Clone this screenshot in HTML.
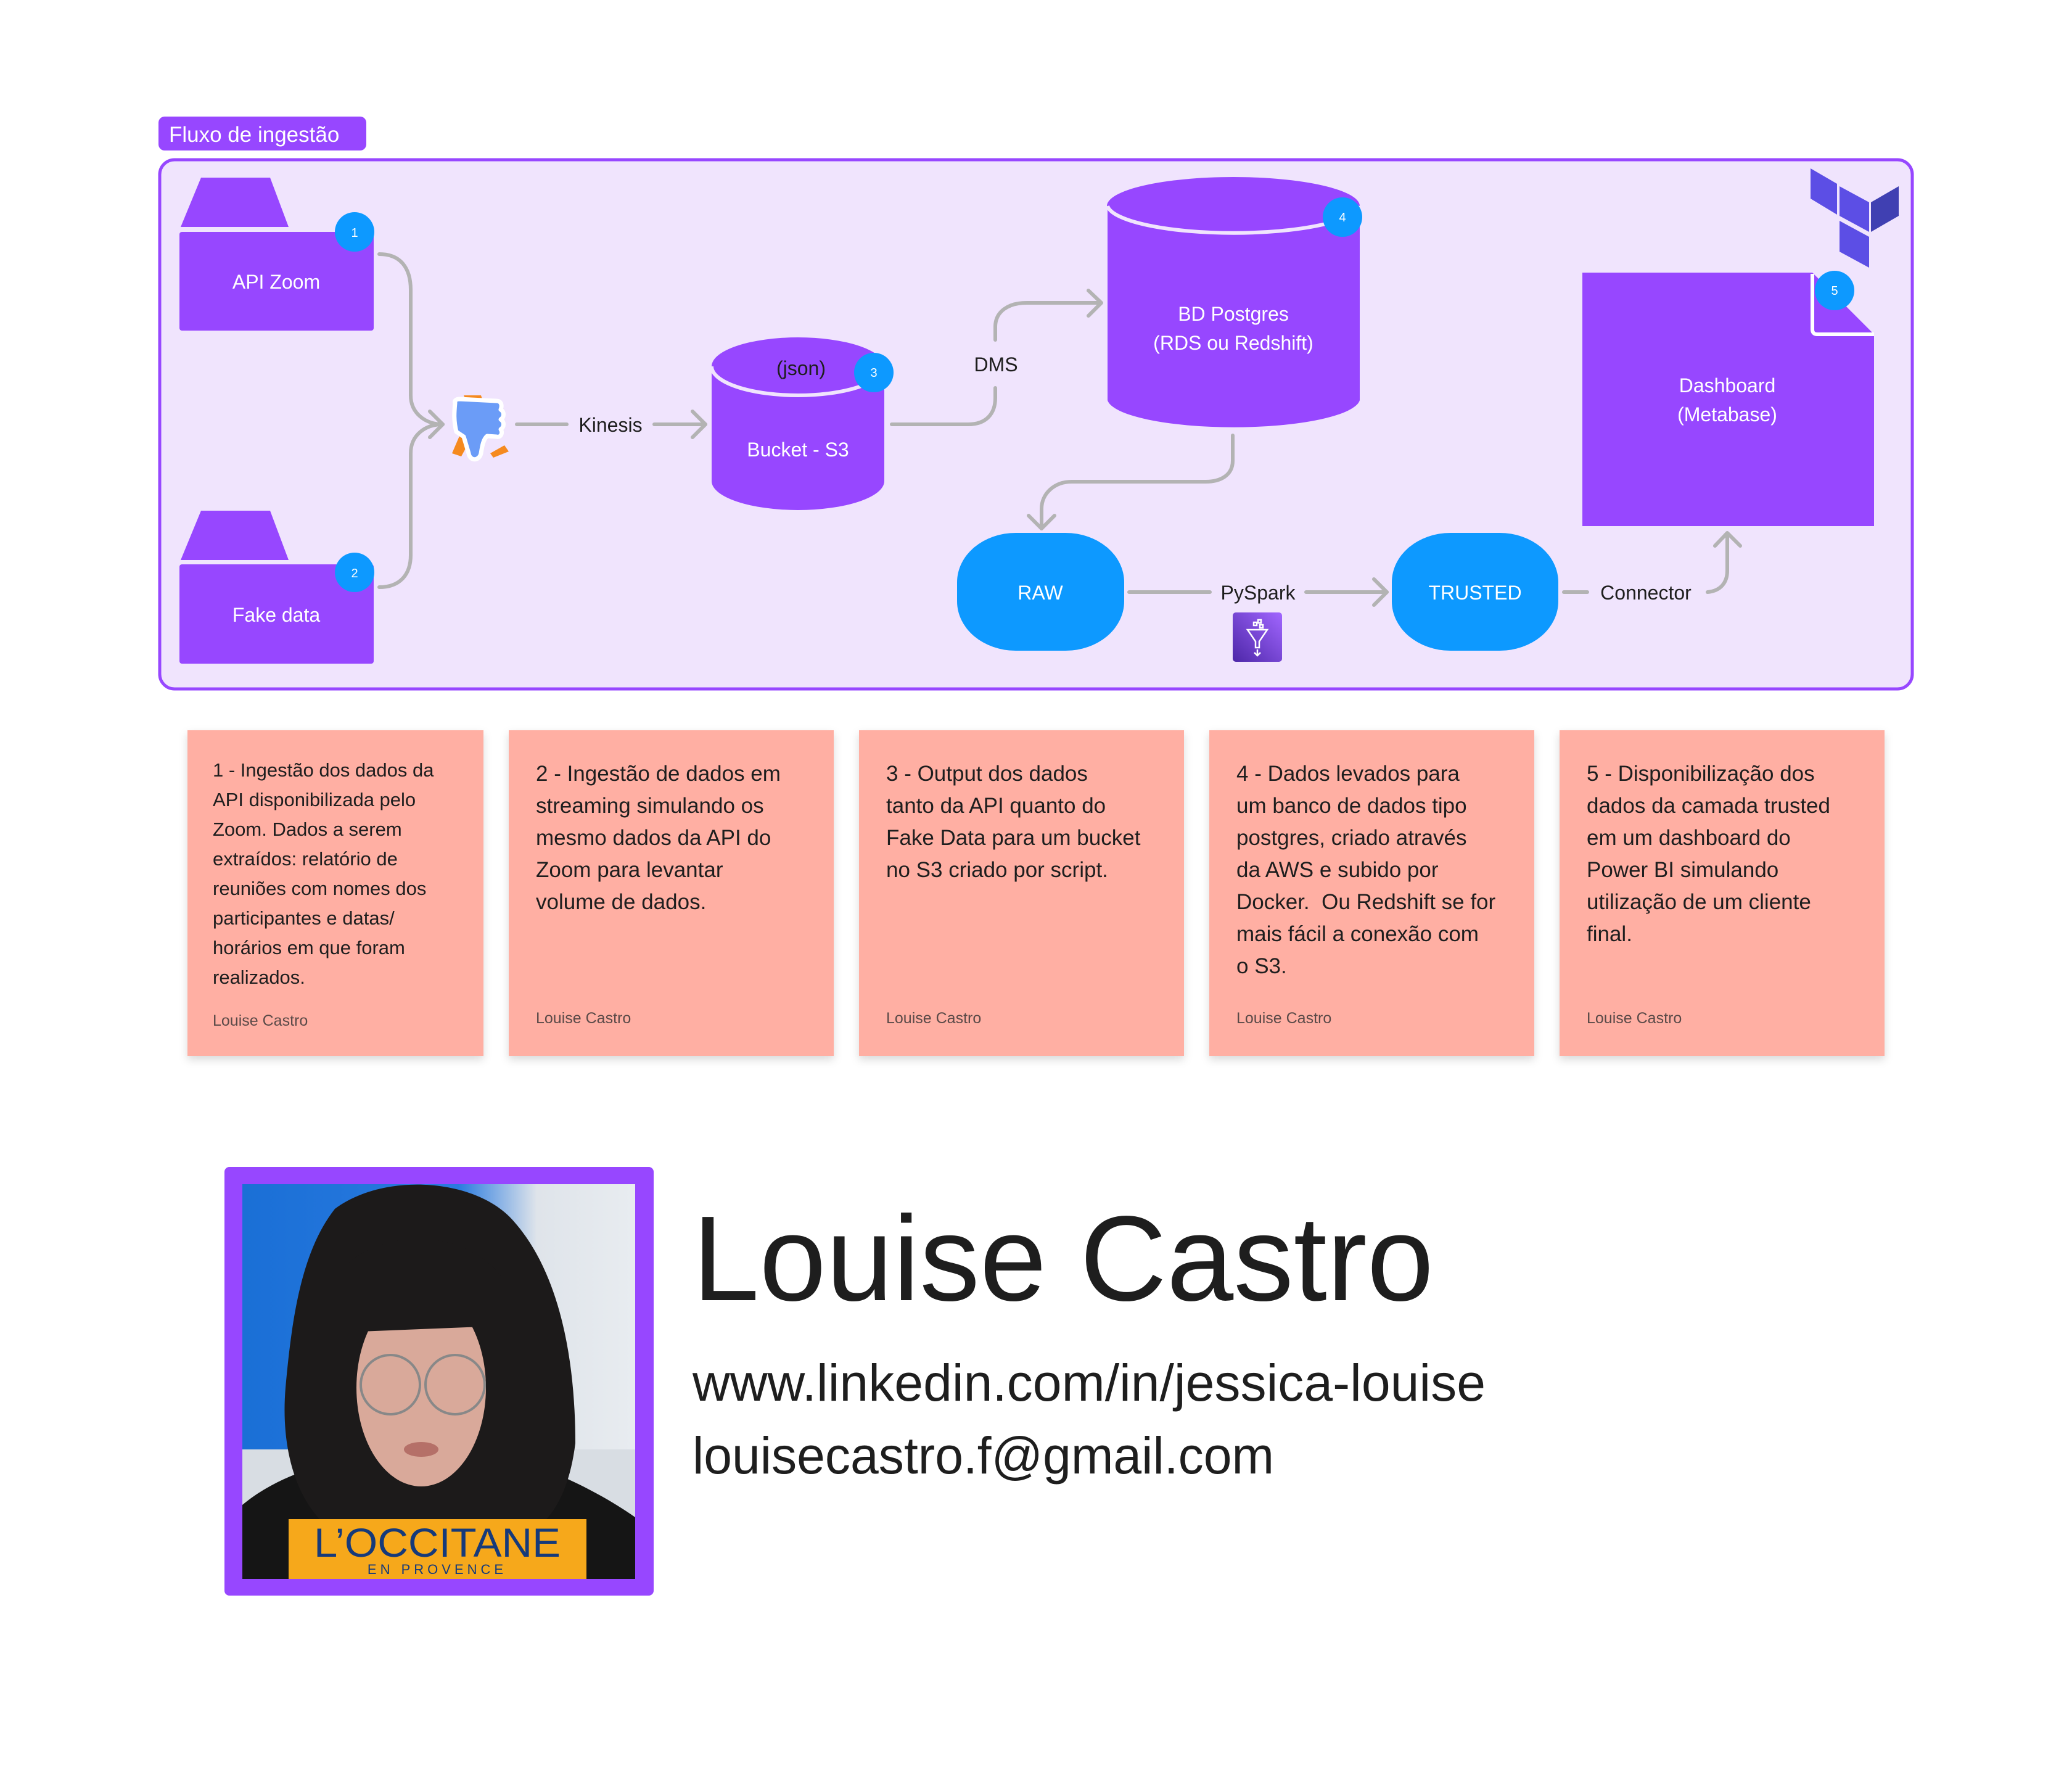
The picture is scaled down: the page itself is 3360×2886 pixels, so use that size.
<!DOCTYPE html>
<html><head><meta charset="utf-8"><style>
html,body{margin:0;padding:0;background:#fff;}
svg{display:block;}
text{font-family:"Liberation Sans",sans-serif;}
</style></head><body>
<svg width="3360" height="2886" viewBox="0 0 3360 2886" xmlns="http://www.w3.org/2000/svg">
<defs>
<filter id="sh" x="-10%" y="-10%" width="120%" height="130%"><feDropShadow dx="0" dy="6" stdDeviation="7" flood-color="#000" flood-opacity="0.15"/></filter>
<linearGradient id="gl" x1="0" y1="1" x2="1" y2="0"><stop offset="0" stop-color="#4d27a8"/><stop offset="1" stop-color="#a166ff"/></linearGradient>
<linearGradient id="bgp" x1="0" y1="0" x2="1" y2="0"><stop offset="0" stop-color="#1a6fd6"/><stop offset="0.55" stop-color="#2a7be0"/><stop offset="0.75" stop-color="#dfe4ea"/><stop offset="1" stop-color="#e8ecf0"/></linearGradient>
</defs>

<rect x="257" y="189" width="337" height="55" rx="10" fill="#9747ff"/>
<text x="274" y="230" font-size="35" fill="#fff">Fluxo de ingestão</text>

<rect x="259" y="259" width="2842" height="858" rx="24" fill="#f0e4fd" stroke="#9747ff" stroke-width="5"/>

<polygon points="326,288 438,288 468,368 293,368" fill="#9747ff"/>
<rect x="291" y="376" width="315" height="160" rx="4" fill="#9747ff"/>
<text x="448" y="468" font-size="32" fill="#fff" text-anchor="middle">API Zoom</text>
<circle cx="575" cy="376" r="32" fill="#0d99ff"/>
<text x="575" y="384" font-size="20" fill="#fff" text-anchor="middle">1</text>

<polygon points="326,828 438,828 468,908 293,908" fill="#9747ff"/>
<rect x="291" y="915" width="315" height="161" rx="4" fill="#9747ff"/>
<text x="448" y="1008" font-size="32" fill="#fff" text-anchor="middle">Fake data</text>
<circle cx="575" cy="928" r="32" fill="#0d99ff"/>
<text x="575" y="936" font-size="20" fill="#fff" text-anchor="middle">2</text>

<g fill="none" stroke="#b3b3b3" stroke-width="6" stroke-linecap="round" stroke-linejoin="round">
<path d="M615,412 C650,412 666,435 666,470 L666,641 C666,670 690,688 718,688"/>
<path d="M615,952 C650,952 666,930 666,900 L666,735 C666,705 690,688 718,688"/>
<path d="M697,667 L718,688 L697,709"/>
<path d="M838,688 L919,688"/>
<path d="M1061,688 L1144,688"/><path d="M1123,667 L1144,688 L1123,709"/>
<path d="M1446,688 L1570,688 C1600,688 1614,670 1614,645 L1614,629"/>
<path d="M1614,551 L1614,530 C1614,505 1635,491 1665,491 L1784,491"/><path d="M1765,471 L1786,491 L1765,512"/>
<path d="M1999,706 L1999,747 C1999,770 1980,781 1955,781 L1738,781 C1710,781 1689,800 1689,825 L1689,857"/><path d="M1668,836 L1689,857 L1710,836"/>
<path d="M1831,960 L1962,960"/>
<path d="M2118,960 L2249,960"/><path d="M2228,939 L2249,960 L2228,981"/>
<path d="M2536,960 L2574,960"/>
<path d="M2769,960 C2790,958 2801,945 2801,925 L2801,866"/><path d="M2781,885 L2801,864 L2822,885"/>
</g>

<polygon points="752,641 780,641 800,700 783,710" fill="#f58a1f"/>
<polygon points="733,735 748,700 760,718 748,740" fill="#f58a1f"/>
<polygon points="795,735 818,722 825,732 800,742" fill="#f58a1f"/>
<path d="M738,653 C736,650 740,647 745,647 L805,650 C812,650 815,656 812,664 C818,668 818,676 812,680 C818,684 818,692 812,696 C816,702 812,710 805,708 L790,707 C784,712 782,722 780,735 C777,748 762,748 760,735 L752,708 L740,700 C735,680 737,665 738,653 Z" fill="#6b9cf7" stroke="#fff" stroke-width="7" stroke-linejoin="round"/>
<text x="990" y="700" font-size="32" fill="#1e1e1e" text-anchor="middle">Kinesis</text>

<path d="M1154,594 L1154,780 A140,47 0 0 0 1434,780 L1434,594 Z" fill="#9747ff"/>
<ellipse cx="1294" cy="594" rx="140" ry="47" fill="#9747ff"/>
<path d="M1154,594 A140,47 0 0 0 1434,594" fill="none" stroke="#f0e4fd" stroke-width="6"/>
<text x="1299" y="608" font-size="32" fill="#1e1e1e" text-anchor="middle">(json)</text>
<text x="1294" y="740" font-size="32" fill="#fff" text-anchor="middle">Bucket - S3</text>
<circle cx="1417" cy="604" r="32" fill="#0d99ff"/>
<text x="1417" y="611" font-size="20" fill="#fff" text-anchor="middle">3</text>
<text x="1615" y="602" font-size="32" fill="#1e1e1e" text-anchor="middle">DMS</text>

<path d="M1796,334 L1796,649 A205,47 0 0 0 2205,649 L2205,334 Z" fill="#9747ff"/>
<ellipse cx="2000" cy="334" rx="205" ry="47" fill="#9747ff"/>
<path d="M1796,334 A205,47 0 0 0 2205,334" fill="none" stroke="#f0e4fd" stroke-width="6"/>
<text x="2000" y="520" font-size="32" fill="#fff" text-anchor="middle">BD Postgres</text>
<text x="2000" y="567" font-size="32" fill="#fff" text-anchor="middle">(RDS ou Redshift)</text>
<circle cx="2177" cy="352" r="32" fill="#0d99ff"/>
<text x="2177" y="359" font-size="20" fill="#fff" text-anchor="middle">4</text>

<rect x="1552" y="864" width="271" height="191" rx="95" ry="80" fill="#0d99ff"/>
<text x="1687" y="972" font-size="32" fill="#fff" text-anchor="middle">RAW</text>
<rect x="2257" y="864" width="270" height="191" rx="95" ry="80" fill="#0d99ff"/>
<text x="2392" y="972" font-size="32" fill="#fff" text-anchor="middle">TRUSTED</text>
<text x="2040" y="972" font-size="32" fill="#1e1e1e" text-anchor="middle">PySpark</text>
<text x="2669" y="972" font-size="32" fill="#1e1e1e" text-anchor="middle">Connector</text>

<rect x="1999" y="993" width="80" height="80" rx="5" fill="url(#gl)"/>
<g fill="none" stroke="#fff" stroke-width="2.5">
<path d="M2023,1021 L2055,1021 L2042,1040 L2042,1050 L2036,1050 L2036,1040 Z"/>
<rect x="2033" y="1009" width="5" height="5"/><rect x="2040" y="1005" width="5" height="5"/><rect x="2043" y="1013" width="5" height="5"/>
<path d="M2039,1053 L2039,1063 M2034,1058 L2039,1063 L2044,1058"/>
</g>

<polygon points="2566,442 2939,442 3039,542 3039,853 2566,853" fill="#9747ff"/>
<path d="M2939,444 L2939,534 Q2939,542 2947,542 L3039,542" fill="none" stroke="#fff" stroke-width="6"/>
<text x="2801" y="636" font-size="32" fill="#fff" text-anchor="middle">Dashboard</text>
<text x="2801" y="683" font-size="32" fill="#fff" text-anchor="middle">(Metabase)</text>
<circle cx="2975" cy="471" r="32" fill="#0d99ff"/>
<text x="2975" y="478" font-size="20" fill="#fff" text-anchor="middle">5</text>

<!-- terraform -->
<polygon points="2936,273 2979,298 2979,348 2936,322" fill="#5c4ee5"/>
<polygon points="2983,302 3031,328 3031,376 2983,350" fill="#5c4ee5"/>
<polygon points="3034,328 3079,302 3079,350 3034,376" fill="#4040b2"/>
<polygon points="2983,358 3031,384 3031,434 2983,408" fill="#5c4ee5"/>

<g filter="url(#sh)">
<rect x="304" y="1184" width="480" height="528" fill="#ffafa3"/>
<rect x="825" y="1184" width="527" height="528" fill="#ffafa3"/>
<rect x="1393" y="1184" width="527" height="528" fill="#ffafa3"/>
<rect x="1961" y="1184" width="527" height="528" fill="#ffafa3"/>
<rect x="2529" y="1184" width="527" height="528" fill="#ffafa3"/>
</g>
<g font-size="31" fill="#1e1e1e">
<text x="345" y="1259">1 - Ingestão dos dados da</text>
<text x="345" y="1307">API disponibilizada pelo</text>
<text x="345" y="1355">Zoom. Dados a serem</text>
<text x="345" y="1403">extraídos: relatório de</text>
<text x="345" y="1451">reuniões com nomes dos</text>
<text x="345" y="1499">participantes e datas/</text>
<text x="345" y="1547">horários em que foram</text>
<text x="345" y="1595">realizados.</text>
</g>
<g font-size="35" fill="#1e1e1e">
<text x="869" y="1266">2 - Ingestão de dados em</text>
<text x="869" y="1318">streaming simulando os</text>
<text x="869" y="1370">mesmo dados da API do</text>
<text x="869" y="1422">Zoom para levantar</text>
<text x="869" y="1474">volume de dados.</text>
<text x="1437" y="1266">3 - Output dos dados</text>
<text x="1437" y="1318">tanto da API quanto do</text>
<text x="1437" y="1370">Fake Data para um bucket</text>
<text x="1437" y="1422">no S3 criado por script.</text>
<text x="2005" y="1266">4 - Dados levados para</text>
<text x="2005" y="1318">um banco de dados tipo</text>
<text x="2005" y="1370">postgres, criado através</text>
<text x="2005" y="1422">da AWS e subido por</text>
<text x="2005" y="1474" xml:space="preserve">Docker.  Ou Redshift se for</text>
<text x="2005" y="1526">mais fácil a conexão com</text>
<text x="2005" y="1578">o S3.</text>
<text x="2573" y="1266">5 - Disponibilização dos</text>
<text x="2573" y="1318">dados da camada trusted</text>
<text x="2573" y="1370">em um dashboard do</text>
<text x="2573" y="1422">Power BI simulando</text>
<text x="2573" y="1474">utilização de um cliente</text>
<text x="2573" y="1526">final.</text>
</g>
<g font-size="25" fill="#5a4a48">
<text x="345" y="1663">Louise Castro</text>
<text x="869" y="1659">Louise Castro</text>
<text x="1437" y="1659">Louise Castro</text>
<text x="2005" y="1659">Louise Castro</text>
<text x="2573" y="1659">Louise Castro</text>
</g>

<rect x="364" y="1892" width="696" height="695" rx="8" fill="#9747ff"/>
<svg x="393" y="1920" width="637" height="640" viewBox="0 0 637 640">
<rect width="637" height="640" fill="url(#bgp)"/>
<rect x="0" y="430" width="637" height="210" fill="#d8dde3"/>
<path d="M0,520 C60,470 140,450 200,440 L420,440 C500,460 580,500 637,540 L637,640 L0,640 Z" fill="#151515"/>
<path d="M150,40 C230,-20 380,-10 440,60 C520,150 540,300 540,420 C530,500 500,560 440,575 L170,575 C100,545 60,450 70,330 C80,220 95,110 150,40 Z" fill="#1c1a1a"/>
<ellipse cx="290" cy="330" rx="105" ry="160" fill="#d9a99a"/>
<path d="M160,140 C220,70 360,70 420,150 L415,230 L165,240 Z" fill="#1c1a1a"/>
<circle cx="240" cy="325" r="48" fill="none" stroke="#888" stroke-width="4"/>
<circle cx="345" cy="325" r="48" fill="none" stroke="#888" stroke-width="4"/>
<ellipse cx="290" cy="430" rx="28" ry="12" fill="#b57068"/>
<rect x="75" y="543" width="483" height="97" fill="#f6a81b"/>
<text x="316" y="604" font-family="Liberation Serif,serif" font-size="66" fill="#163a7a" text-anchor="middle" textLength="400" lengthAdjust="spacingAndGlyphs">L’OCCITANE</text>
<text x="316" y="632" font-family="Liberation Serif,serif" font-size="22" fill="#163a7a" text-anchor="middle" letter-spacing="6">EN PROVENCE</text>
</svg>

<text x="1123" y="2108" font-size="196" fill="#1e1e1e" textLength="1202" lengthAdjust="spacingAndGlyphs">Louise Castro</text>
<text x="1123" y="2271" font-size="84" fill="#1e1e1e" textLength="1286" lengthAdjust="spacingAndGlyphs">www.linkedin.com/in/jessica-louise</text>
<text x="1123" y="2389" font-size="84" fill="#1e1e1e" textLength="943" lengthAdjust="spacingAndGlyphs">louisecastro.f@gmail.com</text>
</svg>
</body></html>
